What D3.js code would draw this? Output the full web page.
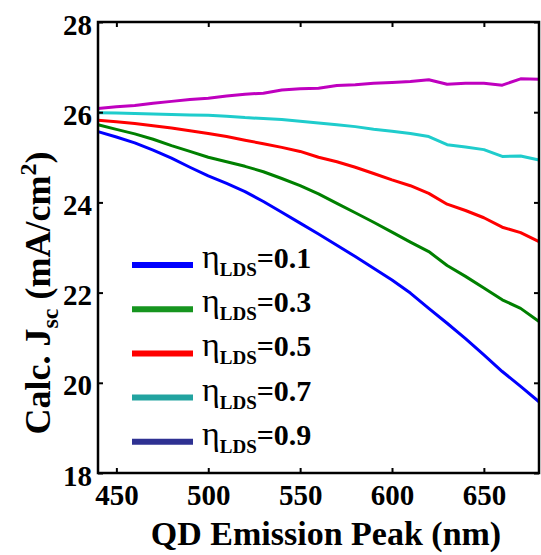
<!DOCTYPE html>
<html>
<head>
<meta charset="utf-8">
<script src="https://cdn.jsdelivr.net/npm/d3@7"></script>
<style>
  body { margin: 0; background: #fff; }
  text { font-family: "Liberation Serif", "Times New Roman", serif; font-weight: bold; fill: #000; }
</style>
</head>
<body>
<div id="main"></div>
<script>
const peaks = [440, 450, 460, 470, 480, 490, 500, 510, 520, 530, 540, 550, 560,
               570, 580, 590, 600, 610, 620, 630, 640, 650, 660, 670, 680];

const eta01 = [25.57, 25.45, 25.32, 25.16, 24.98, 24.78, 24.59, 24.42, 24.24, 24.02, 23.78, 23.54, 23.30,
               23.05, 22.80, 22.54, 22.28, 21.99, 21.65, 21.32, 20.98, 20.62, 20.25, 19.92, 19.58];
const eta03 = [25.72, 25.62, 25.52, 25.40, 25.26, 25.13, 25.00, 24.90, 24.80, 24.68, 24.53, 24.37, 24.19,
               23.98, 23.77, 23.56, 23.34, 23.12, 22.91, 22.60, 22.36, 22.10, 21.84, 21.65, 21.36];
const eta05 = [25.82, 25.79, 25.75, 25.70, 25.65, 25.59, 25.53, 25.46, 25.38, 25.30, 25.22, 25.13, 25.00,
               24.90, 24.78, 24.64, 24.50, 24.37, 24.20, 23.96, 23.82, 23.66, 23.45, 23.33, 23.13];
const eta07 = [25.99, 25.98, 25.97, 25.96, 25.95, 25.94, 25.93, 25.91, 25.88, 25.86, 25.84, 25.80, 25.76,
               25.72, 25.68, 25.62, 25.58, 25.53, 25.46, 25.28, 25.23, 25.17, 25.02, 25.03, 24.94];
const eta09 = [26.08, 26.12, 26.15, 26.20, 26.24, 26.28, 26.31, 26.36, 26.40, 26.42, 26.49, 26.52, 26.53,
               26.59, 26.61, 26.64, 26.66, 26.68, 26.72, 26.62, 26.64, 26.64, 26.60, 26.74, 26.73];

const etaLabels = ['0.1', '0.3', '0.5', '0.7', '0.9'];
const lineColors = ['#0000ff', '#008000', '#ff0000', '#1fcccc', '#bf00bf'];
const legendColors = ['#0000ff', '#16951f', '#ff0000', '#22a3a0', '#2e3192'];
const xTicks = [450, 500, 550, 600, 650];
const yTicks = [18, 20, 22, 24, 26, 28];

const series = [eta01, eta03, eta05, eta07, eta09];

const
  width = 541,
  height = 555,
  plotLeft = 98, plotTop = 22, plotRight = 539, plotBottom = 473;

const x = d3.scaleLinear().domain([440, 680]).range([plotLeft, plotRight]);
const y = d3.scaleLinear().domain([18, 28]).range([plotBottom, plotTop]);

const svg = d3.select('div#main').append('svg').attr('width', width).attr('height', height);

// curves
const line = d3.line().x((d, i) => x(peaks[i])).y(d => y(d));
svg.append('g').selectAll('path').data(series).join('path')
  .attr('d', line)
  .attr('fill', 'none')
  .attr('stroke', (d, i) => lineColors[i])
  .attr('stroke-width', 3)
  .attr('stroke-linejoin', 'round');

// axes, matlab style: ticks pointing in, box round the plot
const xAxis = d3.axisBottom(x).tickValues(xTicks).tickSizeInner(-5).tickSizeOuter(0).tickPadding(12);
const yAxis = d3.axisLeft(y).tickValues(yTicks).tickSizeInner(-5).tickSizeOuter(0).tickPadding(6);

const gx = svg.append('g').attr('transform', `translate(0, ${plotBottom})`).call(xAxis);
const gy = svg.append('g').attr('transform', `translate(${plotLeft}, 0)`).call(yAxis);
svg.append('g').attr('transform', `translate(0, ${plotTop})`)
  .call(d3.axisTop(x).tickValues(xTicks).tickSizeInner(-5).tickSizeOuter(0).tickFormat(''));
svg.append('g').attr('transform', `translate(${plotRight}, 0)`)
  .call(d3.axisRight(y).tickValues(yTicks).tickSizeInner(-5).tickSizeOuter(0).tickFormat(''));

svg.selectAll('.domain').remove();
svg.selectAll('.tick line').attr('stroke', '#000').attr('stroke-width', 2);
svg.append('rect')
  .attr('x', plotLeft).attr('y', plotTop)
  .attr('width', plotRight - plotLeft).attr('height', plotBottom - plotTop)
  .attr('fill', 'none').attr('stroke', '#000').attr('stroke-width', 2.5);

gx.selectAll('.tick text').attr('font-size', 29).attr('font-family', null).attr('dy', '0.68em');
gy.selectAll('.tick text').attr('font-size', 29).attr('font-family', null).attr('dy', '0.42em');

// axis titles
svg.append('text')
  .attr('x', 326).attr('y', 545)
  .attr('text-anchor', 'middle')
  .attr('font-size', 34)
  .text('QD Emission Peak (nm)');

const yt = svg.append('text')
  .attr('transform', 'translate(50, 293) rotate(-90)')
  .attr('text-anchor', 'middle')
  .attr('font-size', 36);
yt.append('tspan').text('Calc. J');
yt.append('tspan').attr('font-size', 24).attr('dy', 8).text('sc');
yt.append('tspan').attr('dy', -8).text(' (mA/cm');
yt.append('tspan').attr('font-size', 24).attr('dy', -14).text('2');
yt.append('tspan').attr('dy', 14).text(')');

// legend
const legend = svg.append('g').selectAll('g').data(etaLabels).join('g')
  .attr('transform', (d, i) => `translate(132, ${265 + i * 44.2})`);
legend.append('line')
  .attr('x1', 0).attr('x2', 61)
  .attr('stroke', (d, i) => legendColors[i])
  .attr('stroke-width', 6);
const lt = legend.append('text').attr('x', 70).attr('y', 3).attr('font-size', 30);
lt.append('tspan').attr('font-size', 34).attr('font-weight', 'normal').text('η');
lt.append('tspan').attr('font-size', 19).attr('dy', 8).text('LDS');
lt.append('tspan').attr('dy', -8).text(d => '=' + d);
</script>
</body>
</html>
